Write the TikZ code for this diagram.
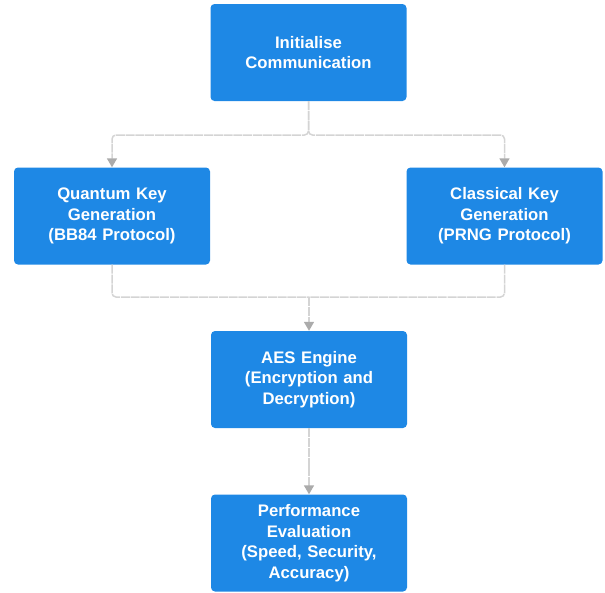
\documentclass[tikz,border=0pt]{standalone}
\usepackage{fontspec}
\setmainfont{Liberation Sans}
\usetikzlibrary{arrows.meta}
\definecolor{boxblue}{HTML}{1E88E5}
\definecolor{linegray}{HTML}{D4D4D4}
\definecolor{tipgray}{HTML}{ABABAB}
\begin{document}
\begin{tikzpicture}[x=1pt, y=-1pt,
        stage/.style={fill=boxblue, rounded corners=4pt, minimum width=196pt, minimum height=97pt,
                      text width=190pt, align=center, text=white, inner sep=0pt,
                      font=\fontsize{16.7}{20.5}\selectfont\bfseries},
        link/.style={draw=linegray, line width=1.5pt, rounded corners=4pt, dash pattern=on 9pt off 0.8pt},
        tip/.style={-{Triangle[width=10pt,length=9pt,color=tipgray]}}]
        \useasboundingbox (0,0) rectangle (605,592);
        \clip (0,0) rectangle (605,592);
        \node[stage] (init) at (308.5,52.5) {Initialise\\Communication};
        \node[stage] (qkg) at (112,216) {Quantum Key\\Generation\\(BB84 Protocol)};
        \node[stage] (ckg) at (504.5,216) {Classical Key\\Generation\\(PRNG Protocol)};
        \node[stage] (aes) at (309,379.5) {AES Engine\\(Encryption and\\Decryption)};
        \node[stage] (perf) at (309,543) {Performance\\Evaluation\\(Speed, Security,\\Accuracy)};
        % fork and join
        \coordinate (fork) at (308.5,135);
        \coordinate (join) at (309,297);
        \draw[link, tip] (init.south) -- (fork) -| (qkg.north);
        \draw[link, tip] (init.south) -- (fork) -| (ckg.north);
        \draw[link] (qkg.south) |- (join);
        \draw[link] (ckg.south) |- (join);
        \draw[link, tip] (join) -- (aes.north);
        \draw[link, tip] (aes.south) -- (perf.north);
\end{tikzpicture}
\end{document}
